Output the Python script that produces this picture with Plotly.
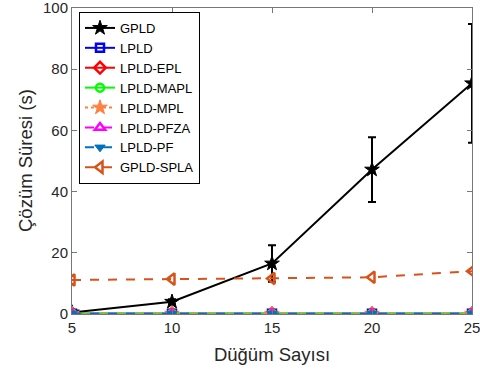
import plotly.graph_objects as go

nodes = [5, 10, 15, 20, 25]

gpld = [0.5, 4.0, 16.5, 47.2, 75.4]
gpld_err = [0.3, 0.8, 6.0, 10.6, 19.4]
lpld = [0.1, 0.1, 0.1, 0.1, 0.1]
lpld_epl = [0.1, 0.1, 0.1, 0.1, 0.1]
lpld_mapl = [0.1, 0.1, 0.1, 0.1, 0.1]
lpld_mpl = [0.1, 0.1, 0.1, 0.1, 0.1]
lpld_pfza = [0.1, 0.1, 0.1, 0.1, 0.1]
lpld_pf = [0.1, 0.1, 0.1, 0.1, 0.1]
gpld_spla = [11.1, 11.4, 11.6, 12.0, 14.0]

series = [
    ("GPLD", gpld, "black", "solid", "star", 11),
    ("LPLD", lpld, "#0000FF", "solid", "square-open", 8),
    ("LPLD-EPL", lpld_epl, "#FF0000", "solid", "diamond-open", 9),
    ("LPLD-MAPL", lpld_mapl, "#00FF00", "solid", "circle-open", 8),
    ("LPLD-MPL", lpld_mpl, "#FF8040", "dot", "star", 11),
    ("LPLD-PFZA", lpld_pfza, "#FF00FF", "dash", "triangle-up-open", 9),
    ("LPLD-PF", lpld_pf, "#0072BD", "dash", "triangle-down", 9),
    ("GPLD-SPLA", gpld_spla, "#D95319", "dash", "triangle-left-open", 10),
]

fig = go.Figure()
for name, vals, color, dash, symbol, size in series:
    err = None
    if name == "GPLD":
        err = dict(type="data", array=gpld_err, visible=True, color="black",
                   thickness=2, width=4)
    fig.add_trace(go.Scatter(
        x=nodes, y=vals, name=name, mode="lines+markers",
        line=dict(color=color, width=2, dash=dash),
        marker=dict(symbol=symbol, size=size, color=color,
                    line=dict(color=color, width=2.5 if "open" in symbol else 1)),
        error_y=err,
    ))

font_family = "Liberation Sans, Arial, sans-serif"
axis_common = dict(
    showline=True, linecolor="#777777", linewidth=1, mirror="ticks",
    ticks="inside", ticklen=5, tickcolor="#777777",
    showgrid=False, zeroline=False, automargin=False,
    ticklabeloverflow="allow",
    tickfont=dict(family=font_family, size=15, color="#262626"),
)

fig.update_xaxes(range=[5, 25], tickvals=nodes, title_text="Düğüm Sayısı",
                 title_font=dict(family=font_family, size=18.5, color="#262626"),
                 title_standoff=13, **axis_common)
fig.update_yaxes(range=[0, 100], tickvals=[0, 20, 40, 60, 80, 100], **axis_common)

# y title as an annotation so it can sit closer to the page edge
fig.add_annotation(text="Çözüm Süresi (s)", xref="paper", yref="paper",
                   x=-0.1175, y=0.5, xanchor="center", yanchor="middle",
                   textangle=-90, showarrow=False,
                   font=dict(family=font_family, size=18.5, color="#262626"))

fig.update_layout(
    width=480, height=378,
    margin=dict(l=72, r=8, t=8, b=64),
    plot_bgcolor="white", paper_bgcolor="white",
    font=dict(family=font_family, size=13, color="black"),
    legend=dict(x=0.0175, y=0.987, xanchor="left", yanchor="top",
                bordercolor="black", borderwidth=1, bgcolor="white",
                font=dict(size=13), tracegroupgap=0, itemwidth=30),
    showlegend=True,
)

# page body has an 8px default margin; drop it so the figure sits at 0,0
fig.write_html("out.html", config={"displayModeBar": False},
               post_script="document.body.style.margin='0';")
